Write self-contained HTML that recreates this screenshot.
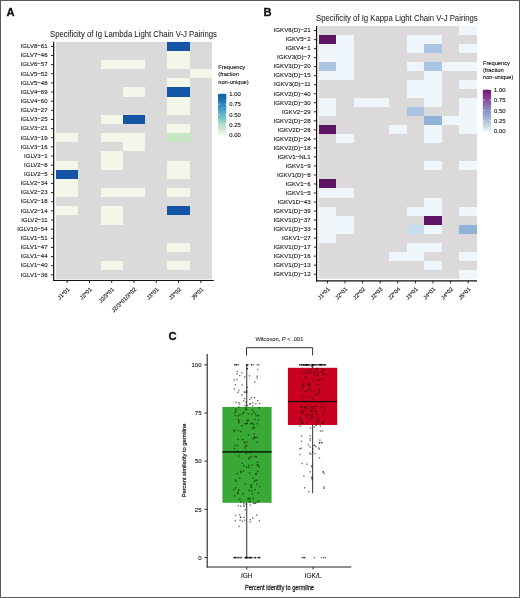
<!DOCTYPE html>
<html><head><meta charset="utf-8"><style>
html,body{margin:0;padding:0;background:#fff;}
#wrap{position:relative;width:520px;height:598px;overflow:hidden;background:#fff;}
svg{position:absolute;left:0;top:0;will-change:transform;font-family:"Liberation Sans", sans-serif;}
#frame{position:absolute;left:0;top:0;width:520px;height:598px;box-sizing:border-box;border:1px solid #5a5a5a;}
</style></head><body><div id="wrap">
<svg width="520" height="598" viewBox="0 0 520 598" shape-rendering="auto">
<rect x="56.00" y="41.80" width="156.00" height="237.60" fill="#dadada"/>
<rect x="167.43" y="41.80" width="22.29" height="9.14" fill="#1455a8" shape-rendering="crispEdges"/>
<rect x="167.43" y="50.94" width="22.29" height="9.14" fill="#f3f7ea" shape-rendering="crispEdges"/>
<rect x="100.57" y="60.08" width="22.29" height="9.14" fill="#f3f7ea" shape-rendering="crispEdges"/>
<rect x="122.86" y="60.08" width="22.29" height="9.14" fill="#f3f7ea" shape-rendering="crispEdges"/>
<rect x="167.43" y="60.08" width="22.29" height="9.14" fill="#f3f7ea" shape-rendering="crispEdges"/>
<rect x="189.71" y="69.22" width="22.29" height="9.14" fill="#f3f7ea" shape-rendering="crispEdges"/>
<rect x="167.43" y="78.35" width="22.29" height="9.14" fill="#f3f7ea" shape-rendering="crispEdges"/>
<rect x="122.86" y="87.49" width="22.29" height="9.14" fill="#f3f7ea" shape-rendering="crispEdges"/>
<rect x="167.43" y="87.49" width="22.29" height="9.14" fill="#1455a8" shape-rendering="crispEdges"/>
<rect x="167.43" y="96.63" width="22.29" height="9.14" fill="#f3f7ea" shape-rendering="crispEdges"/>
<rect x="167.43" y="105.77" width="22.29" height="9.14" fill="#f3f7ea" shape-rendering="crispEdges"/>
<rect x="100.57" y="114.91" width="22.29" height="9.14" fill="#f3f7ea" shape-rendering="crispEdges"/>
<rect x="122.86" y="114.91" width="22.29" height="9.14" fill="#1455a8" shape-rendering="crispEdges"/>
<rect x="167.43" y="124.05" width="22.29" height="9.14" fill="#f3f7ea" shape-rendering="crispEdges"/>
<rect x="56.00" y="133.18" width="22.29" height="9.14" fill="#f3f7ea" shape-rendering="crispEdges"/>
<rect x="100.57" y="133.18" width="22.29" height="9.14" fill="#f3f7ea" shape-rendering="crispEdges"/>
<rect x="122.86" y="133.18" width="22.29" height="9.14" fill="#f3f7ea" shape-rendering="crispEdges"/>
<rect x="167.43" y="133.18" width="22.29" height="9.14" fill="#c6e6c2" shape-rendering="crispEdges"/>
<rect x="122.86" y="142.32" width="22.29" height="9.14" fill="#f3f7ea" shape-rendering="crispEdges"/>
<rect x="100.57" y="151.46" width="22.29" height="9.14" fill="#f3f7ea" shape-rendering="crispEdges"/>
<rect x="56.00" y="160.60" width="22.29" height="9.14" fill="#f3f7ea" shape-rendering="crispEdges"/>
<rect x="100.57" y="160.60" width="22.29" height="9.14" fill="#f3f7ea" shape-rendering="crispEdges"/>
<rect x="167.43" y="160.60" width="22.29" height="9.14" fill="#f3f7ea" shape-rendering="crispEdges"/>
<rect x="56.00" y="169.74" width="22.29" height="9.14" fill="#1455a8" shape-rendering="crispEdges"/>
<rect x="167.43" y="169.74" width="22.29" height="9.14" fill="#f3f7ea" shape-rendering="crispEdges"/>
<rect x="56.00" y="178.88" width="22.29" height="9.14" fill="#f3f7ea" shape-rendering="crispEdges"/>
<rect x="56.00" y="188.02" width="22.29" height="9.14" fill="#f3f7ea" shape-rendering="crispEdges"/>
<rect x="100.57" y="188.02" width="22.29" height="9.14" fill="#f3f7ea" shape-rendering="crispEdges"/>
<rect x="122.86" y="188.02" width="22.29" height="9.14" fill="#f3f7ea" shape-rendering="crispEdges"/>
<rect x="167.43" y="188.02" width="22.29" height="9.14" fill="#f3f7ea" shape-rendering="crispEdges"/>
<rect x="56.00" y="206.29" width="22.29" height="9.14" fill="#f3f7ea" shape-rendering="crispEdges"/>
<rect x="100.57" y="206.29" width="22.29" height="9.14" fill="#f3f7ea" shape-rendering="crispEdges"/>
<rect x="167.43" y="206.29" width="22.29" height="9.14" fill="#1455a8" shape-rendering="crispEdges"/>
<rect x="100.57" y="215.43" width="22.29" height="9.14" fill="#f3f7ea" shape-rendering="crispEdges"/>
<rect x="167.43" y="242.85" width="22.29" height="9.14" fill="#f3f7ea" shape-rendering="crispEdges"/>
<rect x="100.57" y="261.12" width="22.29" height="9.14" fill="#f3f7ea" shape-rendering="crispEdges"/>
<rect x="167.43" y="261.12" width="22.29" height="9.14" fill="#f3f7ea" shape-rendering="crispEdges"/>
<line x1="53.70" y1="41.80" x2="53.70" y2="281.10" stroke="#111" stroke-width="1.2"/>
<line x1="53.10" y1="280.50" x2="213.80" y2="280.50" stroke="#111" stroke-width="1.2"/>
<line x1="51.00" y1="46.37" x2="53.70" y2="46.37" stroke="#111" stroke-width="0.9"/>
<text x="47.50" y="48.12" font-size="6.02" text-anchor="end" fill="#1e1e1e" font-weight="normal" stroke="#1e1e1e" stroke-width="0.13" >IGLV8−61</text>
<line x1="51.00" y1="55.51" x2="53.70" y2="55.51" stroke="#111" stroke-width="0.9"/>
<text x="47.50" y="57.26" font-size="6.02" text-anchor="end" fill="#1e1e1e" font-weight="normal" stroke="#1e1e1e" stroke-width="0.13" >IGLV7−46</text>
<line x1="51.00" y1="64.65" x2="53.70" y2="64.65" stroke="#111" stroke-width="0.9"/>
<text x="47.50" y="66.40" font-size="6.02" text-anchor="end" fill="#1e1e1e" font-weight="normal" stroke="#1e1e1e" stroke-width="0.13" >IGLV6−57</text>
<line x1="51.00" y1="73.78" x2="53.70" y2="73.78" stroke="#111" stroke-width="0.9"/>
<text x="47.50" y="75.53" font-size="6.02" text-anchor="end" fill="#1e1e1e" font-weight="normal" stroke="#1e1e1e" stroke-width="0.13" >IGLV5−52</text>
<line x1="51.00" y1="82.92" x2="53.70" y2="82.92" stroke="#111" stroke-width="0.9"/>
<text x="47.50" y="84.67" font-size="6.02" text-anchor="end" fill="#1e1e1e" font-weight="normal" stroke="#1e1e1e" stroke-width="0.13" >IGLV5−48</text>
<line x1="51.00" y1="92.06" x2="53.70" y2="92.06" stroke="#111" stroke-width="0.9"/>
<text x="47.50" y="93.81" font-size="6.02" text-anchor="end" fill="#1e1e1e" font-weight="normal" stroke="#1e1e1e" stroke-width="0.13" >IGLV4−69</text>
<line x1="51.00" y1="101.20" x2="53.70" y2="101.20" stroke="#111" stroke-width="0.9"/>
<text x="47.50" y="102.95" font-size="6.02" text-anchor="end" fill="#1e1e1e" font-weight="normal" stroke="#1e1e1e" stroke-width="0.13" >IGLV4−60</text>
<line x1="51.00" y1="110.34" x2="53.70" y2="110.34" stroke="#111" stroke-width="0.9"/>
<text x="47.50" y="112.09" font-size="6.02" text-anchor="end" fill="#1e1e1e" font-weight="normal" stroke="#1e1e1e" stroke-width="0.13" >IGLV3−27</text>
<line x1="51.00" y1="119.48" x2="53.70" y2="119.48" stroke="#111" stroke-width="0.9"/>
<text x="47.50" y="121.23" font-size="6.02" text-anchor="end" fill="#1e1e1e" font-weight="normal" stroke="#1e1e1e" stroke-width="0.13" >IGLV3−25</text>
<line x1="51.00" y1="128.62" x2="53.70" y2="128.62" stroke="#111" stroke-width="0.9"/>
<text x="47.50" y="130.37" font-size="6.02" text-anchor="end" fill="#1e1e1e" font-weight="normal" stroke="#1e1e1e" stroke-width="0.13" >IGLV3−21</text>
<line x1="51.00" y1="137.75" x2="53.70" y2="137.75" stroke="#111" stroke-width="0.9"/>
<text x="47.50" y="139.50" font-size="6.02" text-anchor="end" fill="#1e1e1e" font-weight="normal" stroke="#1e1e1e" stroke-width="0.13" >IGLV3−19</text>
<line x1="51.00" y1="146.89" x2="53.70" y2="146.89" stroke="#111" stroke-width="0.9"/>
<text x="47.50" y="148.64" font-size="6.02" text-anchor="end" fill="#1e1e1e" font-weight="normal" stroke="#1e1e1e" stroke-width="0.13" >IGLV3−16</text>
<line x1="51.00" y1="156.03" x2="53.70" y2="156.03" stroke="#111" stroke-width="0.9"/>
<text x="47.50" y="157.78" font-size="6.02" text-anchor="end" fill="#1e1e1e" font-weight="normal" stroke="#1e1e1e" stroke-width="0.13" >IGLV3−1</text>
<line x1="51.00" y1="165.17" x2="53.70" y2="165.17" stroke="#111" stroke-width="0.9"/>
<text x="47.50" y="166.92" font-size="6.02" text-anchor="end" fill="#1e1e1e" font-weight="normal" stroke="#1e1e1e" stroke-width="0.13" >IGLV2−8</text>
<line x1="51.00" y1="174.31" x2="53.70" y2="174.31" stroke="#111" stroke-width="0.9"/>
<text x="47.50" y="176.06" font-size="6.02" text-anchor="end" fill="#1e1e1e" font-weight="normal" stroke="#1e1e1e" stroke-width="0.13" >IGLV2−5</text>
<line x1="51.00" y1="183.45" x2="53.70" y2="183.45" stroke="#111" stroke-width="0.9"/>
<text x="47.50" y="185.20" font-size="6.02" text-anchor="end" fill="#1e1e1e" font-weight="normal" stroke="#1e1e1e" stroke-width="0.13" >IGLV2−34</text>
<line x1="51.00" y1="192.58" x2="53.70" y2="192.58" stroke="#111" stroke-width="0.9"/>
<text x="47.50" y="194.33" font-size="6.02" text-anchor="end" fill="#1e1e1e" font-weight="normal" stroke="#1e1e1e" stroke-width="0.13" >IGLV2−23</text>
<line x1="51.00" y1="201.72" x2="53.70" y2="201.72" stroke="#111" stroke-width="0.9"/>
<text x="47.50" y="203.47" font-size="6.02" text-anchor="end" fill="#1e1e1e" font-weight="normal" stroke="#1e1e1e" stroke-width="0.13" >IGLV2−18</text>
<line x1="51.00" y1="210.86" x2="53.70" y2="210.86" stroke="#111" stroke-width="0.9"/>
<text x="47.50" y="212.61" font-size="6.02" text-anchor="end" fill="#1e1e1e" font-weight="normal" stroke="#1e1e1e" stroke-width="0.13" >IGLV2−14</text>
<line x1="51.00" y1="220.00" x2="53.70" y2="220.00" stroke="#111" stroke-width="0.9"/>
<text x="47.50" y="221.75" font-size="6.02" text-anchor="end" fill="#1e1e1e" font-weight="normal" stroke="#1e1e1e" stroke-width="0.13" >IGLV2−11</text>
<line x1="51.00" y1="229.14" x2="53.70" y2="229.14" stroke="#111" stroke-width="0.9"/>
<text x="47.50" y="230.89" font-size="6.02" text-anchor="end" fill="#1e1e1e" font-weight="normal" stroke="#1e1e1e" stroke-width="0.13" >IGLV10−54</text>
<line x1="51.00" y1="238.28" x2="53.70" y2="238.28" stroke="#111" stroke-width="0.9"/>
<text x="47.50" y="240.03" font-size="6.02" text-anchor="end" fill="#1e1e1e" font-weight="normal" stroke="#1e1e1e" stroke-width="0.13" >IGLV1−51</text>
<line x1="51.00" y1="247.42" x2="53.70" y2="247.42" stroke="#111" stroke-width="0.9"/>
<text x="47.50" y="249.17" font-size="6.02" text-anchor="end" fill="#1e1e1e" font-weight="normal" stroke="#1e1e1e" stroke-width="0.13" >IGLV1−47</text>
<line x1="51.00" y1="256.55" x2="53.70" y2="256.55" stroke="#111" stroke-width="0.9"/>
<text x="47.50" y="258.30" font-size="6.02" text-anchor="end" fill="#1e1e1e" font-weight="normal" stroke="#1e1e1e" stroke-width="0.13" >IGLV1−44</text>
<line x1="51.00" y1="265.69" x2="53.70" y2="265.69" stroke="#111" stroke-width="0.9"/>
<text x="47.50" y="267.44" font-size="6.02" text-anchor="end" fill="#1e1e1e" font-weight="normal" stroke="#1e1e1e" stroke-width="0.13" >IGLV1−40</text>
<line x1="51.00" y1="274.83" x2="53.70" y2="274.83" stroke="#111" stroke-width="0.9"/>
<text x="47.50" y="276.58" font-size="6.02" text-anchor="end" fill="#1e1e1e" font-weight="normal" stroke="#1e1e1e" stroke-width="0.13" >IGLV1−36</text>
<line x1="67.14" y1="280.50" x2="67.14" y2="283.00" stroke="#111" stroke-width="0.9"/>
<text transform="translate(67.74,287.50) rotate(-45)" font-size="5.7" text-anchor="end" fill="#222222" stroke="#222222" stroke-width="0.13" dy="0.55em">J1*01</text>
<line x1="89.43" y1="280.50" x2="89.43" y2="283.00" stroke="#111" stroke-width="0.9"/>
<text transform="translate(90.03,287.50) rotate(-45)" font-size="5.7" text-anchor="end" fill="#222222" stroke="#222222" stroke-width="0.13" dy="0.55em">J2*01</text>
<line x1="111.71" y1="280.50" x2="111.71" y2="283.00" stroke="#111" stroke-width="0.9"/>
<text transform="translate(112.31,287.50) rotate(-45)" font-size="5.7" text-anchor="end" fill="#222222" stroke="#222222" stroke-width="0.13" dy="0.55em">J2/3*01</text>
<line x1="134.00" y1="280.50" x2="134.00" y2="283.00" stroke="#111" stroke-width="0.9"/>
<text transform="translate(134.60,287.50) rotate(-45)" font-size="5.7" text-anchor="end" fill="#222222" stroke="#222222" stroke-width="0.13" dy="0.55em">J2/3*01/3*02</text>
<line x1="156.29" y1="280.50" x2="156.29" y2="283.00" stroke="#111" stroke-width="0.9"/>
<text transform="translate(156.89,287.50) rotate(-45)" font-size="5.7" text-anchor="end" fill="#222222" stroke="#222222" stroke-width="0.13" dy="0.55em">J3*01</text>
<line x1="178.57" y1="280.50" x2="178.57" y2="283.00" stroke="#111" stroke-width="0.9"/>
<text transform="translate(179.17,287.50) rotate(-45)" font-size="5.7" text-anchor="end" fill="#222222" stroke="#222222" stroke-width="0.13" dy="0.55em">J3*02</text>
<line x1="200.86" y1="280.50" x2="200.86" y2="283.00" stroke="#111" stroke-width="0.9"/>
<text transform="translate(201.46,287.50) rotate(-45)" font-size="5.7" text-anchor="end" fill="#222222" stroke="#222222" stroke-width="0.13" dy="0.55em">J6*01</text>
<text x="6.40" y="15.80" font-size="11.2" text-anchor="start" fill="#111" font-weight="bold" stroke="#111" stroke-width="0.3" >A</text>
<text x="50.00" y="36.80" font-size="8.2" text-anchor="start" fill="#262626" font-weight="normal" textLength="167" lengthAdjust="spacingAndGlyphs" stroke="#262626" stroke-width="0.06" >Specificity of Ig Lambda Light Chain V-J Pairings</text>
<text x="218.30" y="68.70" font-size="5.7" text-anchor="start" fill="#1a1a1a" font-weight="normal" stroke="#1a1a1a" stroke-width="0.13" >Frequency</text>
<text x="218.30" y="76.15" font-size="5.7" text-anchor="start" fill="#1a1a1a" font-weight="normal" stroke="#1a1a1a" stroke-width="0.13" >(fraction</text>
<text x="218.30" y="83.60" font-size="5.7" text-anchor="start" fill="#1a1a1a" font-weight="normal" stroke="#1a1a1a" stroke-width="0.13" >non-unique)</text>
<defs><linearGradient id="gA" x1="0" y1="1" x2="0" y2="0"><stop offset="0" stop-color="#f2f9ee"/><stop offset="0.25" stop-color="#b4dfbf"/><stop offset="0.5" stop-color="#5db6c8"/><stop offset="0.75" stop-color="#2a88bd"/><stop offset="1" stop-color="#135a9c"/></linearGradient><linearGradient id="gB" x1="0" y1="1" x2="0" y2="0"><stop offset="0" stop-color="#eaf2f8"/><stop offset="0.25" stop-color="#a9c0dd"/><stop offset="0.5" stop-color="#8c8fc5"/><stop offset="0.75" stop-color="#8a4c9f"/><stop offset="1" stop-color="#6a1870"/></linearGradient></defs>
<rect x="218.00" y="93.80" width="8.30" height="41.40" fill="url(#gA)"/>
<line x1="218.20" y1="93.80" x2="220.00" y2="93.80" stroke="#fff" stroke-width="0.6"/>
<line x1="224.90" y1="93.80" x2="226.70" y2="93.80" stroke="#fff" stroke-width="0.6"/>
<text x="229.30" y="95.90" font-size="5.9" text-anchor="start" fill="#222222" font-weight="normal" stroke="#222222" stroke-width="0.13" >1.00</text>
<line x1="218.20" y1="104.15" x2="220.00" y2="104.15" stroke="#fff" stroke-width="0.6"/>
<line x1="224.90" y1="104.15" x2="226.70" y2="104.15" stroke="#fff" stroke-width="0.6"/>
<text x="229.30" y="106.25" font-size="5.9" text-anchor="start" fill="#222222" font-weight="normal" stroke="#222222" stroke-width="0.13" >0.75</text>
<line x1="218.20" y1="114.50" x2="220.00" y2="114.50" stroke="#fff" stroke-width="0.6"/>
<line x1="224.90" y1="114.50" x2="226.70" y2="114.50" stroke="#fff" stroke-width="0.6"/>
<text x="229.30" y="116.60" font-size="5.9" text-anchor="start" fill="#222222" font-weight="normal" stroke="#222222" stroke-width="0.13" >0.50</text>
<line x1="218.20" y1="124.85" x2="220.00" y2="124.85" stroke="#fff" stroke-width="0.6"/>
<line x1="224.90" y1="124.85" x2="226.70" y2="124.85" stroke="#fff" stroke-width="0.6"/>
<text x="229.30" y="126.95" font-size="5.9" text-anchor="start" fill="#222222" font-weight="normal" stroke="#222222" stroke-width="0.13" >0.25</text>
<line x1="218.20" y1="135.20" x2="220.00" y2="135.20" stroke="#fff" stroke-width="0.6"/>
<line x1="224.90" y1="135.20" x2="226.70" y2="135.20" stroke="#fff" stroke-width="0.6"/>
<text x="229.30" y="137.30" font-size="5.9" text-anchor="start" fill="#222222" font-weight="normal" stroke="#222222" stroke-width="0.13" >0.00</text>
<rect x="318.60" y="26.10" width="158.40" height="252.60" fill="#dcd9da"/>
<rect x="459.40" y="26.10" width="17.60" height="9.02" fill="#eef6fb" shape-rendering="crispEdges"/>
<rect x="318.60" y="35.12" width="17.60" height="9.02" fill="#5f1466" shape-rendering="crispEdges"/>
<rect x="336.20" y="35.12" width="17.60" height="9.02" fill="#eef6fb" shape-rendering="crispEdges"/>
<rect x="406.60" y="35.12" width="17.60" height="9.02" fill="#eef6fb" shape-rendering="crispEdges"/>
<rect x="424.20" y="35.12" width="17.60" height="9.02" fill="#eef6fb" shape-rendering="crispEdges"/>
<rect x="318.60" y="44.14" width="17.60" height="9.02" fill="#eef6fb" shape-rendering="crispEdges"/>
<rect x="336.20" y="44.14" width="17.60" height="9.02" fill="#eef6fb" shape-rendering="crispEdges"/>
<rect x="406.60" y="44.14" width="17.60" height="9.02" fill="#eef6fb" shape-rendering="crispEdges"/>
<rect x="424.20" y="44.14" width="17.60" height="9.02" fill="#a9c5e2" shape-rendering="crispEdges"/>
<rect x="459.40" y="44.14" width="17.60" height="9.02" fill="#eef6fb" shape-rendering="crispEdges"/>
<rect x="318.60" y="53.16" width="17.60" height="9.02" fill="#eef6fb" shape-rendering="crispEdges"/>
<rect x="336.20" y="53.16" width="17.60" height="9.02" fill="#eef6fb" shape-rendering="crispEdges"/>
<rect x="318.60" y="62.19" width="17.60" height="9.02" fill="#a9c5e2" shape-rendering="crispEdges"/>
<rect x="336.20" y="62.19" width="17.60" height="9.02" fill="#eef6fb" shape-rendering="crispEdges"/>
<rect x="406.60" y="62.19" width="17.60" height="9.02" fill="#eef6fb" shape-rendering="crispEdges"/>
<rect x="424.20" y="62.19" width="17.60" height="9.02" fill="#a9c5e2" shape-rendering="crispEdges"/>
<rect x="441.80" y="62.19" width="17.60" height="9.02" fill="#eef6fb" shape-rendering="crispEdges"/>
<rect x="459.40" y="62.19" width="17.60" height="9.02" fill="#eef6fb" shape-rendering="crispEdges"/>
<rect x="318.60" y="71.21" width="17.60" height="9.02" fill="#eef6fb" shape-rendering="crispEdges"/>
<rect x="336.20" y="71.21" width="17.60" height="9.02" fill="#eef6fb" shape-rendering="crispEdges"/>
<rect x="424.20" y="71.21" width="17.60" height="9.02" fill="#eef6fb" shape-rendering="crispEdges"/>
<rect x="406.60" y="80.23" width="17.60" height="9.02" fill="#eef6fb" shape-rendering="crispEdges"/>
<rect x="424.20" y="80.23" width="17.60" height="9.02" fill="#eef6fb" shape-rendering="crispEdges"/>
<rect x="459.40" y="80.23" width="17.60" height="9.02" fill="#eef6fb" shape-rendering="crispEdges"/>
<rect x="406.60" y="89.25" width="17.60" height="9.02" fill="#eef6fb" shape-rendering="crispEdges"/>
<rect x="424.20" y="89.25" width="17.60" height="9.02" fill="#eef6fb" shape-rendering="crispEdges"/>
<rect x="318.60" y="98.27" width="17.60" height="9.02" fill="#eef6fb" shape-rendering="crispEdges"/>
<rect x="353.80" y="98.27" width="17.60" height="9.02" fill="#eef6fb" shape-rendering="crispEdges"/>
<rect x="371.40" y="98.27" width="17.60" height="9.02" fill="#eef6fb" shape-rendering="crispEdges"/>
<rect x="424.20" y="98.27" width="17.60" height="9.02" fill="#eef6fb" shape-rendering="crispEdges"/>
<rect x="459.40" y="98.27" width="17.60" height="9.02" fill="#eef6fb" shape-rendering="crispEdges"/>
<rect x="318.60" y="107.29" width="17.60" height="9.02" fill="#eef6fb" shape-rendering="crispEdges"/>
<rect x="406.60" y="107.29" width="17.60" height="9.02" fill="#a9c5e2" shape-rendering="crispEdges"/>
<rect x="459.40" y="107.29" width="17.60" height="9.02" fill="#eef6fb" shape-rendering="crispEdges"/>
<rect x="424.20" y="116.31" width="17.60" height="9.02" fill="#8fb2da" shape-rendering="crispEdges"/>
<rect x="441.80" y="116.31" width="17.60" height="9.02" fill="#eef6fb" shape-rendering="crispEdges"/>
<rect x="459.40" y="116.31" width="17.60" height="9.02" fill="#eef6fb" shape-rendering="crispEdges"/>
<rect x="318.60" y="125.34" width="17.60" height="9.02" fill="#5f1466" shape-rendering="crispEdges"/>
<rect x="389.00" y="125.34" width="17.60" height="9.02" fill="#eef6fb" shape-rendering="crispEdges"/>
<rect x="424.20" y="125.34" width="17.60" height="9.02" fill="#eef6fb" shape-rendering="crispEdges"/>
<rect x="459.40" y="125.34" width="17.60" height="9.02" fill="#eef6fb" shape-rendering="crispEdges"/>
<rect x="336.20" y="134.36" width="17.60" height="9.02" fill="#eef6fb" shape-rendering="crispEdges"/>
<rect x="424.20" y="134.36" width="17.60" height="9.02" fill="#eef6fb" shape-rendering="crispEdges"/>
<rect x="424.20" y="161.42" width="17.60" height="9.02" fill="#eef6fb" shape-rendering="crispEdges"/>
<rect x="459.40" y="161.42" width="17.60" height="9.02" fill="#eef6fb" shape-rendering="crispEdges"/>
<rect x="318.60" y="179.46" width="17.60" height="9.02" fill="#5f1466" shape-rendering="crispEdges"/>
<rect x="318.60" y="188.49" width="17.60" height="9.02" fill="#eef6fb" shape-rendering="crispEdges"/>
<rect x="336.20" y="188.49" width="17.60" height="9.02" fill="#eef6fb" shape-rendering="crispEdges"/>
<rect x="424.20" y="197.51" width="17.60" height="9.02" fill="#eef6fb" shape-rendering="crispEdges"/>
<rect x="318.60" y="206.53" width="17.60" height="9.02" fill="#eef6fb" shape-rendering="crispEdges"/>
<rect x="406.60" y="206.53" width="17.60" height="9.02" fill="#eef6fb" shape-rendering="crispEdges"/>
<rect x="424.20" y="206.53" width="17.60" height="9.02" fill="#eef6fb" shape-rendering="crispEdges"/>
<rect x="459.40" y="206.53" width="17.60" height="9.02" fill="#eef6fb" shape-rendering="crispEdges"/>
<rect x="318.60" y="215.55" width="17.60" height="9.02" fill="#eef6fb" shape-rendering="crispEdges"/>
<rect x="336.20" y="215.55" width="17.60" height="9.02" fill="#eef6fb" shape-rendering="crispEdges"/>
<rect x="424.20" y="215.55" width="17.60" height="9.02" fill="#5f1466" shape-rendering="crispEdges"/>
<rect x="318.60" y="224.57" width="17.60" height="9.02" fill="#eef6fb" shape-rendering="crispEdges"/>
<rect x="336.20" y="224.57" width="17.60" height="9.02" fill="#eef6fb" shape-rendering="crispEdges"/>
<rect x="406.60" y="224.57" width="17.60" height="9.02" fill="#c9dcec" shape-rendering="crispEdges"/>
<rect x="424.20" y="224.57" width="17.60" height="9.02" fill="#eef6fb" shape-rendering="crispEdges"/>
<rect x="459.40" y="224.57" width="17.60" height="9.02" fill="#8fb2da" shape-rendering="crispEdges"/>
<rect x="318.60" y="233.59" width="17.60" height="9.02" fill="#eef6fb" shape-rendering="crispEdges"/>
<rect x="406.60" y="242.61" width="17.60" height="9.02" fill="#eef6fb" shape-rendering="crispEdges"/>
<rect x="424.20" y="242.61" width="17.60" height="9.02" fill="#eef6fb" shape-rendering="crispEdges"/>
<rect x="389.00" y="251.64" width="17.60" height="9.02" fill="#eef6fb" shape-rendering="crispEdges"/>
<rect x="406.60" y="251.64" width="17.60" height="9.02" fill="#eef6fb" shape-rendering="crispEdges"/>
<rect x="459.40" y="251.64" width="17.60" height="9.02" fill="#eef6fb" shape-rendering="crispEdges"/>
<rect x="424.20" y="260.66" width="17.60" height="9.02" fill="#eef6fb" shape-rendering="crispEdges"/>
<rect x="459.40" y="269.68" width="17.60" height="9.02" fill="#eef6fb" shape-rendering="crispEdges"/>
<line x1="316.60" y1="26.10" x2="316.60" y2="281.40" stroke="#111" stroke-width="1.2"/>
<line x1="316.00" y1="280.80" x2="477.00" y2="280.80" stroke="#111" stroke-width="1.2"/>
<line x1="313.80" y1="30.61" x2="316.60" y2="30.61" stroke="#111" stroke-width="0.9"/>
<text x="310.60" y="32.36" font-size="6.15" text-anchor="end" fill="#1e1e1e" font-weight="normal" stroke="#1e1e1e" stroke-width="0.13" >IGKV6(D)−21</text>
<line x1="313.80" y1="39.63" x2="316.60" y2="39.63" stroke="#111" stroke-width="0.9"/>
<text x="310.60" y="41.38" font-size="6.15" text-anchor="end" fill="#1e1e1e" font-weight="normal" stroke="#1e1e1e" stroke-width="0.13" >IGKV5−2</text>
<line x1="313.80" y1="48.65" x2="316.60" y2="48.65" stroke="#111" stroke-width="0.9"/>
<text x="310.60" y="50.40" font-size="6.15" text-anchor="end" fill="#1e1e1e" font-weight="normal" stroke="#1e1e1e" stroke-width="0.13" >IGKV4−1</text>
<line x1="313.80" y1="57.67" x2="316.60" y2="57.67" stroke="#111" stroke-width="0.9"/>
<text x="310.60" y="59.42" font-size="6.15" text-anchor="end" fill="#1e1e1e" font-weight="normal" stroke="#1e1e1e" stroke-width="0.13" >IGKV3(D)−7</text>
<line x1="313.80" y1="66.70" x2="316.60" y2="66.70" stroke="#111" stroke-width="0.9"/>
<text x="310.60" y="68.45" font-size="6.15" text-anchor="end" fill="#1e1e1e" font-weight="normal" stroke="#1e1e1e" stroke-width="0.13" >IGKV3(D)−20</text>
<line x1="313.80" y1="75.72" x2="316.60" y2="75.72" stroke="#111" stroke-width="0.9"/>
<text x="310.60" y="77.47" font-size="6.15" text-anchor="end" fill="#1e1e1e" font-weight="normal" stroke="#1e1e1e" stroke-width="0.13" >IGKV3(D)−15</text>
<line x1="313.80" y1="84.74" x2="316.60" y2="84.74" stroke="#111" stroke-width="0.9"/>
<text x="310.60" y="86.49" font-size="6.15" text-anchor="end" fill="#1e1e1e" font-weight="normal" stroke="#1e1e1e" stroke-width="0.13" >IGKV3(D)−11</text>
<line x1="313.80" y1="93.76" x2="316.60" y2="93.76" stroke="#111" stroke-width="0.9"/>
<text x="310.60" y="95.51" font-size="6.15" text-anchor="end" fill="#1e1e1e" font-weight="normal" stroke="#1e1e1e" stroke-width="0.13" >IGKV2(D)−40</text>
<line x1="313.80" y1="102.78" x2="316.60" y2="102.78" stroke="#111" stroke-width="0.9"/>
<text x="310.60" y="104.53" font-size="6.15" text-anchor="end" fill="#1e1e1e" font-weight="normal" stroke="#1e1e1e" stroke-width="0.13" >IGKV2(D)−30</text>
<line x1="313.80" y1="111.80" x2="316.60" y2="111.80" stroke="#111" stroke-width="0.9"/>
<text x="310.60" y="113.55" font-size="6.15" text-anchor="end" fill="#1e1e1e" font-weight="normal" stroke="#1e1e1e" stroke-width="0.13" >IGKV2−29</text>
<line x1="313.80" y1="120.82" x2="316.60" y2="120.82" stroke="#111" stroke-width="0.9"/>
<text x="310.60" y="122.57" font-size="6.15" text-anchor="end" fill="#1e1e1e" font-weight="normal" stroke="#1e1e1e" stroke-width="0.13" >IGKV2(D)−28</text>
<line x1="313.80" y1="129.85" x2="316.60" y2="129.85" stroke="#111" stroke-width="0.9"/>
<text x="310.60" y="131.60" font-size="6.15" text-anchor="end" fill="#1e1e1e" font-weight="normal" stroke="#1e1e1e" stroke-width="0.13" >IGKV2D−26</text>
<line x1="313.80" y1="138.87" x2="316.60" y2="138.87" stroke="#111" stroke-width="0.9"/>
<text x="310.60" y="140.62" font-size="6.15" text-anchor="end" fill="#1e1e1e" font-weight="normal" stroke="#1e1e1e" stroke-width="0.13" >IGKV2(D)−24</text>
<line x1="313.80" y1="147.89" x2="316.60" y2="147.89" stroke="#111" stroke-width="0.9"/>
<text x="310.60" y="149.64" font-size="6.15" text-anchor="end" fill="#1e1e1e" font-weight="normal" stroke="#1e1e1e" stroke-width="0.13" >IGKV2(D)−18</text>
<line x1="313.80" y1="156.91" x2="316.60" y2="156.91" stroke="#111" stroke-width="0.9"/>
<text x="310.60" y="158.66" font-size="6.15" text-anchor="end" fill="#1e1e1e" font-weight="normal" stroke="#1e1e1e" stroke-width="0.13" >IGKV1−NL1</text>
<line x1="313.80" y1="165.93" x2="316.60" y2="165.93" stroke="#111" stroke-width="0.9"/>
<text x="310.60" y="167.68" font-size="6.15" text-anchor="end" fill="#1e1e1e" font-weight="normal" stroke="#1e1e1e" stroke-width="0.13" >IGKV1−9</text>
<line x1="313.80" y1="174.95" x2="316.60" y2="174.95" stroke="#111" stroke-width="0.9"/>
<text x="310.60" y="176.70" font-size="6.15" text-anchor="end" fill="#1e1e1e" font-weight="normal" stroke="#1e1e1e" stroke-width="0.13" >IGKV1(D)−8</text>
<line x1="313.80" y1="183.97" x2="316.60" y2="183.97" stroke="#111" stroke-width="0.9"/>
<text x="310.60" y="185.72" font-size="6.15" text-anchor="end" fill="#1e1e1e" font-weight="normal" stroke="#1e1e1e" stroke-width="0.13" >IGKV1−6</text>
<line x1="313.80" y1="193.00" x2="316.60" y2="193.00" stroke="#111" stroke-width="0.9"/>
<text x="310.60" y="194.75" font-size="6.15" text-anchor="end" fill="#1e1e1e" font-weight="normal" stroke="#1e1e1e" stroke-width="0.13" >IGKV1−5</text>
<line x1="313.80" y1="202.02" x2="316.60" y2="202.02" stroke="#111" stroke-width="0.9"/>
<text x="310.60" y="203.77" font-size="6.15" text-anchor="end" fill="#1e1e1e" font-weight="normal" stroke="#1e1e1e" stroke-width="0.13" >IGKV1D−43</text>
<line x1="313.80" y1="211.04" x2="316.60" y2="211.04" stroke="#111" stroke-width="0.9"/>
<text x="310.60" y="212.79" font-size="6.15" text-anchor="end" fill="#1e1e1e" font-weight="normal" stroke="#1e1e1e" stroke-width="0.13" >IGKV1(D)−39</text>
<line x1="313.80" y1="220.06" x2="316.60" y2="220.06" stroke="#111" stroke-width="0.9"/>
<text x="310.60" y="221.81" font-size="6.15" text-anchor="end" fill="#1e1e1e" font-weight="normal" stroke="#1e1e1e" stroke-width="0.13" >IGKV1(D)−37</text>
<line x1="313.80" y1="229.08" x2="316.60" y2="229.08" stroke="#111" stroke-width="0.9"/>
<text x="310.60" y="230.83" font-size="6.15" text-anchor="end" fill="#1e1e1e" font-weight="normal" stroke="#1e1e1e" stroke-width="0.13" >IGKV1(D)−33</text>
<line x1="313.80" y1="238.10" x2="316.60" y2="238.10" stroke="#111" stroke-width="0.9"/>
<text x="310.60" y="239.85" font-size="6.15" text-anchor="end" fill="#1e1e1e" font-weight="normal" stroke="#1e1e1e" stroke-width="0.13" >IGKV1−27</text>
<line x1="313.80" y1="247.12" x2="316.60" y2="247.12" stroke="#111" stroke-width="0.9"/>
<text x="310.60" y="248.87" font-size="6.15" text-anchor="end" fill="#1e1e1e" font-weight="normal" stroke="#1e1e1e" stroke-width="0.13" >IGKV1(D)−17</text>
<line x1="313.80" y1="256.15" x2="316.60" y2="256.15" stroke="#111" stroke-width="0.9"/>
<text x="310.60" y="257.90" font-size="6.15" text-anchor="end" fill="#1e1e1e" font-weight="normal" stroke="#1e1e1e" stroke-width="0.13" >IGKV1(D)−16</text>
<line x1="313.80" y1="265.17" x2="316.60" y2="265.17" stroke="#111" stroke-width="0.9"/>
<text x="310.60" y="266.92" font-size="6.15" text-anchor="end" fill="#1e1e1e" font-weight="normal" stroke="#1e1e1e" stroke-width="0.13" >IGKV1(D)−13</text>
<line x1="313.80" y1="274.19" x2="316.60" y2="274.19" stroke="#111" stroke-width="0.9"/>
<text x="310.60" y="275.94" font-size="6.15" text-anchor="end" fill="#1e1e1e" font-weight="normal" stroke="#1e1e1e" stroke-width="0.13" >IGKV1(D)−12</text>
<line x1="327.40" y1="280.80" x2="327.40" y2="283.40" stroke="#111" stroke-width="0.9"/>
<text transform="translate(328.00,287.40) rotate(-45)" font-size="5.7" text-anchor="end" fill="#222222" stroke="#222222" stroke-width="0.13" dy="0.55em">J1*01</text>
<line x1="345.00" y1="280.80" x2="345.00" y2="283.40" stroke="#111" stroke-width="0.9"/>
<text transform="translate(345.60,287.40) rotate(-45)" font-size="5.7" text-anchor="end" fill="#222222" stroke="#222222" stroke-width="0.13" dy="0.55em">J2*01</text>
<line x1="362.60" y1="280.80" x2="362.60" y2="283.40" stroke="#111" stroke-width="0.9"/>
<text transform="translate(363.20,287.40) rotate(-45)" font-size="5.7" text-anchor="end" fill="#222222" stroke="#222222" stroke-width="0.13" dy="0.55em">J2*02</text>
<line x1="380.20" y1="280.80" x2="380.20" y2="283.40" stroke="#111" stroke-width="0.9"/>
<text transform="translate(380.80,287.40) rotate(-45)" font-size="5.7" text-anchor="end" fill="#222222" stroke="#222222" stroke-width="0.13" dy="0.55em">J2*03</text>
<line x1="397.80" y1="280.80" x2="397.80" y2="283.40" stroke="#111" stroke-width="0.9"/>
<text transform="translate(398.40,287.40) rotate(-45)" font-size="5.7" text-anchor="end" fill="#222222" stroke="#222222" stroke-width="0.13" dy="0.55em">J2*04</text>
<line x1="415.40" y1="280.80" x2="415.40" y2="283.40" stroke="#111" stroke-width="0.9"/>
<text transform="translate(416.00,287.40) rotate(-45)" font-size="5.7" text-anchor="end" fill="#222222" stroke="#222222" stroke-width="0.13" dy="0.55em">J3*01</text>
<line x1="433.00" y1="280.80" x2="433.00" y2="283.40" stroke="#111" stroke-width="0.9"/>
<text transform="translate(433.60,287.40) rotate(-45)" font-size="5.7" text-anchor="end" fill="#222222" stroke="#222222" stroke-width="0.13" dy="0.55em">J4*01</text>
<line x1="450.60" y1="280.80" x2="450.60" y2="283.40" stroke="#111" stroke-width="0.9"/>
<text transform="translate(451.20,287.40) rotate(-45)" font-size="5.7" text-anchor="end" fill="#222222" stroke="#222222" stroke-width="0.13" dy="0.55em">J4*02</text>
<line x1="468.20" y1="280.80" x2="468.20" y2="283.40" stroke="#111" stroke-width="0.9"/>
<text transform="translate(468.80,287.40) rotate(-45)" font-size="5.7" text-anchor="end" fill="#222222" stroke="#222222" stroke-width="0.13" dy="0.55em">J5*01</text>
<text x="263.40" y="15.90" font-size="11.2" text-anchor="start" fill="#111" font-weight="bold" stroke="#111" stroke-width="0.3" >B</text>
<text x="316.00" y="20.80" font-size="8.2" text-anchor="start" fill="#262626" font-weight="normal" textLength="161.7" lengthAdjust="spacingAndGlyphs" stroke="#262626" stroke-width="0.06" >Specificity of Ig Kappa Light Chain V-J Pairings</text>
<text x="483.00" y="64.50" font-size="5.7" text-anchor="start" fill="#1a1a1a" font-weight="normal" stroke="#1a1a1a" stroke-width="0.13" >Frequency</text>
<text x="483.00" y="71.95" font-size="5.7" text-anchor="start" fill="#1a1a1a" font-weight="normal" stroke="#1a1a1a" stroke-width="0.13" >(fraction</text>
<text x="483.00" y="79.40" font-size="5.7" text-anchor="start" fill="#1a1a1a" font-weight="normal" stroke="#1a1a1a" stroke-width="0.13" >non-unique)</text>
<rect x="482.80" y="89.70" width="8.30" height="41.40" fill="url(#gB)"/>
<line x1="482.90" y1="89.70" x2="484.70" y2="89.70" stroke="#fff" stroke-width="0.6"/>
<line x1="489.60" y1="89.70" x2="491.40" y2="89.70" stroke="#fff" stroke-width="0.6"/>
<text x="494.00" y="91.80" font-size="5.9" text-anchor="start" fill="#222222" font-weight="normal" stroke="#222222" stroke-width="0.13" >1.00</text>
<line x1="482.90" y1="100.05" x2="484.70" y2="100.05" stroke="#fff" stroke-width="0.6"/>
<line x1="489.60" y1="100.05" x2="491.40" y2="100.05" stroke="#fff" stroke-width="0.6"/>
<text x="494.00" y="102.15" font-size="5.9" text-anchor="start" fill="#222222" font-weight="normal" stroke="#222222" stroke-width="0.13" >0.75</text>
<line x1="482.90" y1="110.40" x2="484.70" y2="110.40" stroke="#fff" stroke-width="0.6"/>
<line x1="489.60" y1="110.40" x2="491.40" y2="110.40" stroke="#fff" stroke-width="0.6"/>
<text x="494.00" y="112.50" font-size="5.9" text-anchor="start" fill="#222222" font-weight="normal" stroke="#222222" stroke-width="0.13" >0.50</text>
<line x1="482.90" y1="120.75" x2="484.70" y2="120.75" stroke="#fff" stroke-width="0.6"/>
<line x1="489.60" y1="120.75" x2="491.40" y2="120.75" stroke="#fff" stroke-width="0.6"/>
<text x="494.00" y="122.85" font-size="5.9" text-anchor="start" fill="#222222" font-weight="normal" stroke="#222222" stroke-width="0.13" >0.25</text>
<line x1="482.90" y1="131.10" x2="484.70" y2="131.10" stroke="#fff" stroke-width="0.6"/>
<line x1="489.60" y1="131.10" x2="491.40" y2="131.10" stroke="#fff" stroke-width="0.6"/>
<text x="494.00" y="133.20" font-size="5.9" text-anchor="start" fill="#222222" font-weight="normal" stroke="#222222" stroke-width="0.13" >0.00</text>
<text x="168.40" y="339.60" font-size="11.2" text-anchor="start" fill="#111" font-weight="bold" stroke="#111" stroke-width="0.3" >C</text>
<line x1="246.70" y1="364.80" x2="246.70" y2="557.60" stroke="#4a4a4a" stroke-width="1.15"/>
<line x1="312.60" y1="364.80" x2="312.60" y2="493.20" stroke="#4a4a4a" stroke-width="1.15"/>
<rect x="222.40" y="407.00" width="49.20" height="95.80" fill="#3aa834"/>
<rect x="287.90" y="367.80" width="49.30" height="57.20" fill="#c90020"/>
<rect x="244.76" y="556.90" width="1.4" height="1.4" fill="#000" opacity="0.55"/>
<rect x="247.55" y="556.90" width="1.4" height="1.4" fill="#000" opacity="0.55"/>
<rect x="257.03" y="556.90" width="1.4" height="1.4" fill="#000" opacity="0.55"/>
<rect x="245.11" y="556.90" width="1.4" height="1.4" fill="#000" opacity="0.55"/>
<rect x="246.20" y="556.90" width="1.4" height="1.4" fill="#000" opacity="0.55"/>
<rect x="248.27" y="556.90" width="1.4" height="1.4" fill="#000" opacity="0.55"/>
<rect x="237.80" y="556.90" width="1.4" height="1.4" fill="#000" opacity="0.55"/>
<rect x="246.31" y="556.90" width="1.4" height="1.4" fill="#000" opacity="0.55"/>
<rect x="249.38" y="556.90" width="1.4" height="1.4" fill="#000" opacity="0.55"/>
<rect x="253.62" y="556.90" width="1.4" height="1.4" fill="#000" opacity="0.55"/>
<rect x="235.45" y="556.90" width="1.4" height="1.4" fill="#000" opacity="0.55"/>
<rect x="240.89" y="556.90" width="1.4" height="1.4" fill="#000" opacity="0.55"/>
<rect x="235.36" y="556.90" width="1.4" height="1.4" fill="#000" opacity="0.55"/>
<rect x="254.05" y="556.90" width="1.4" height="1.4" fill="#000" opacity="0.55"/>
<rect x="251.03" y="556.90" width="1.4" height="1.4" fill="#000" opacity="0.55"/>
<rect x="234.09" y="556.90" width="1.4" height="1.4" fill="#000" opacity="0.55"/>
<rect x="258.54" y="556.90" width="1.4" height="1.4" fill="#000" opacity="0.55"/>
<rect x="258.08" y="556.90" width="1.4" height="1.4" fill="#000" opacity="0.55"/>
<rect x="250.00" y="556.90" width="1.4" height="1.4" fill="#000" opacity="0.55"/>
<rect x="249.00" y="556.90" width="1.4" height="1.4" fill="#000" opacity="0.55"/>
<rect x="237.09" y="556.90" width="1.4" height="1.4" fill="#000" opacity="0.55"/>
<rect x="233.39" y="556.90" width="1.4" height="1.4" fill="#000" opacity="0.55"/>
<rect x="246.74" y="556.90" width="1.4" height="1.4" fill="#000" opacity="0.55"/>
<rect x="234.55" y="556.90" width="1.4" height="1.4" fill="#000" opacity="0.55"/>
<rect x="237.95" y="556.90" width="1.4" height="1.4" fill="#000" opacity="0.55"/>
<rect x="239.29" y="556.90" width="1.4" height="1.4" fill="#000" opacity="0.55"/>
<rect x="233.78" y="556.90" width="1.4" height="1.4" fill="#000" opacity="0.55"/>
<rect x="245.06" y="556.90" width="1.4" height="1.4" fill="#000" opacity="0.55"/>
<rect x="244.45" y="556.90" width="1.4" height="1.4" fill="#000" opacity="0.55"/>
<rect x="254.90" y="556.90" width="1.4" height="1.4" fill="#000" opacity="0.55"/>
<rect x="246.50" y="556.90" width="1.4" height="1.4" fill="#000" opacity="0.55"/>
<rect x="249.65" y="556.90" width="1.4" height="1.4" fill="#000" opacity="0.55"/>
<rect x="245.99" y="556.90" width="1.4" height="1.4" fill="#000" opacity="0.55"/>
<rect x="250.22" y="556.90" width="1.4" height="1.4" fill="#000" opacity="0.55"/>
<rect x="244.89" y="556.90" width="1.4" height="1.4" fill="#000" opacity="0.55"/>
<rect x="240.23" y="556.90" width="1.4" height="1.4" fill="#000" opacity="0.55"/>
<rect x="258.94" y="556.90" width="1.4" height="1.4" fill="#000" opacity="0.55"/>
<rect x="258.89" y="556.90" width="1.4" height="1.4" fill="#000" opacity="0.55"/>
<rect x="254.85" y="556.90" width="1.4" height="1.4" fill="#000" opacity="0.55"/>
<rect x="251.40" y="556.90" width="1.4" height="1.4" fill="#000" opacity="0.55"/>
<rect x="238.97" y="514.09" width="1.4" height="1.4" fill="#000" opacity="0.55"/>
<rect x="234.83" y="514.70" width="1.4" height="1.4" fill="#000" opacity="0.55"/>
<rect x="243.41" y="505.67" width="1.4" height="1.4" fill="#000" opacity="0.55"/>
<rect x="243.05" y="504.42" width="1.4" height="1.4" fill="#000" opacity="0.55"/>
<rect x="255.03" y="502.75" width="1.4" height="1.4" fill="#000" opacity="0.55"/>
<rect x="238.45" y="525.79" width="1.4" height="1.4" fill="#000" opacity="0.55"/>
<rect x="245.22" y="503.46" width="1.4" height="1.4" fill="#000" opacity="0.55"/>
<rect x="243.33" y="502.43" width="1.4" height="1.4" fill="#000" opacity="0.55"/>
<rect x="249.37" y="521.08" width="1.4" height="1.4" fill="#000" opacity="0.55"/>
<rect x="240.01" y="505.48" width="1.4" height="1.4" fill="#000" opacity="0.55"/>
<rect x="241.65" y="520.52" width="1.4" height="1.4" fill="#000" opacity="0.55"/>
<rect x="252.71" y="502.66" width="1.4" height="1.4" fill="#000" opacity="0.55"/>
<rect x="239.41" y="519.42" width="1.4" height="1.4" fill="#000" opacity="0.55"/>
<rect x="234.56" y="520.01" width="1.4" height="1.4" fill="#000" opacity="0.55"/>
<rect x="237.62" y="505.19" width="1.4" height="1.4" fill="#000" opacity="0.55"/>
<rect x="244.63" y="509.18" width="1.4" height="1.4" fill="#000" opacity="0.55"/>
<rect x="252.03" y="517.21" width="1.4" height="1.4" fill="#000" opacity="0.55"/>
<rect x="249.74" y="518.99" width="1.4" height="1.4" fill="#000" opacity="0.55"/>
<rect x="243.94" y="519.47" width="1.4" height="1.4" fill="#000" opacity="0.55"/>
<rect x="240.01" y="516.60" width="1.4" height="1.4" fill="#000" opacity="0.55"/>
<rect x="253.89" y="502.56" width="1.4" height="1.4" fill="#000" opacity="0.55"/>
<rect x="256.01" y="514.35" width="1.4" height="1.4" fill="#000" opacity="0.55"/>
<rect x="243.25" y="516.66" width="1.4" height="1.4" fill="#000" opacity="0.55"/>
<rect x="249.69" y="504.30" width="1.4" height="1.4" fill="#000" opacity="0.55"/>
<rect x="258.72" y="520.03" width="1.4" height="1.4" fill="#000" opacity="0.55"/>
<rect x="239.72" y="516.59" width="1.4" height="1.4" fill="#000" opacity="0.55"/>
<rect x="241.55" y="462.67" width="1.4" height="1.4" fill="#000" opacity="0.55"/>
<rect x="234.91" y="487.00" width="1.4" height="1.4" fill="#000" opacity="0.55"/>
<rect x="248.15" y="497.54" width="1.4" height="1.4" fill="#000" opacity="0.55"/>
<rect x="248.63" y="489.73" width="1.4" height="1.4" fill="#000" opacity="0.55"/>
<rect x="244.78" y="483.15" width="1.4" height="1.4" fill="#000" opacity="0.55"/>
<rect x="245.58" y="453.14" width="1.4" height="1.4" fill="#000" opacity="0.55"/>
<rect x="255.53" y="472.79" width="1.4" height="1.4" fill="#000" opacity="0.55"/>
<rect x="237.01" y="492.80" width="1.4" height="1.4" fill="#000" opacity="0.55"/>
<rect x="254.26" y="455.73" width="1.4" height="1.4" fill="#000" opacity="0.55"/>
<rect x="237.93" y="489.40" width="1.4" height="1.4" fill="#000" opacity="0.55"/>
<rect x="257.45" y="464.37" width="1.4" height="1.4" fill="#000" opacity="0.55"/>
<rect x="257.70" y="492.10" width="1.4" height="1.4" fill="#000" opacity="0.55"/>
<rect x="248.69" y="457.07" width="1.4" height="1.4" fill="#000" opacity="0.55"/>
<rect x="235.70" y="480.61" width="1.4" height="1.4" fill="#000" opacity="0.55"/>
<rect x="258.03" y="500.17" width="1.4" height="1.4" fill="#000" opacity="0.55"/>
<rect x="251.32" y="489.96" width="1.4" height="1.4" fill="#000" opacity="0.55"/>
<rect x="254.42" y="489.02" width="1.4" height="1.4" fill="#000" opacity="0.55"/>
<rect x="240.63" y="471.67" width="1.4" height="1.4" fill="#000" opacity="0.55"/>
<rect x="251.73" y="493.18" width="1.4" height="1.4" fill="#000" opacity="0.55"/>
<rect x="238.94" y="498.63" width="1.4" height="1.4" fill="#000" opacity="0.55"/>
<rect x="255.16" y="473.57" width="1.4" height="1.4" fill="#000" opacity="0.55"/>
<rect x="240.29" y="470.76" width="1.4" height="1.4" fill="#000" opacity="0.55"/>
<rect x="238.30" y="455.28" width="1.4" height="1.4" fill="#000" opacity="0.55"/>
<rect x="240.00" y="501.30" width="1.4" height="1.4" fill="#000" opacity="0.55"/>
<rect x="234.57" y="479.37" width="1.4" height="1.4" fill="#000" opacity="0.55"/>
<rect x="242.59" y="493.14" width="1.4" height="1.4" fill="#000" opacity="0.55"/>
<rect x="236.42" y="472.91" width="1.4" height="1.4" fill="#000" opacity="0.55"/>
<rect x="256.16" y="483.64" width="1.4" height="1.4" fill="#000" opacity="0.55"/>
<rect x="250.08" y="452.05" width="1.4" height="1.4" fill="#000" opacity="0.55"/>
<rect x="248.20" y="466.83" width="1.4" height="1.4" fill="#000" opacity="0.55"/>
<rect x="233.91" y="494.97" width="1.4" height="1.4" fill="#000" opacity="0.55"/>
<rect x="256.67" y="501.23" width="1.4" height="1.4" fill="#000" opacity="0.55"/>
<rect x="258.03" y="466.33" width="1.4" height="1.4" fill="#000" opacity="0.55"/>
<rect x="249.54" y="501.06" width="1.4" height="1.4" fill="#000" opacity="0.55"/>
<rect x="251.99" y="477.51" width="1.4" height="1.4" fill="#000" opacity="0.55"/>
<rect x="258.98" y="485.85" width="1.4" height="1.4" fill="#000" opacity="0.55"/>
<rect x="247.20" y="498.30" width="1.4" height="1.4" fill="#000" opacity="0.55"/>
<rect x="256.41" y="464.49" width="1.4" height="1.4" fill="#000" opacity="0.55"/>
<rect x="251.30" y="464.49" width="1.4" height="1.4" fill="#000" opacity="0.55"/>
<rect x="256.79" y="461.62" width="1.4" height="1.4" fill="#000" opacity="0.55"/>
<rect x="250.81" y="484.17" width="1.4" height="1.4" fill="#000" opacity="0.55"/>
<rect x="255.65" y="456.12" width="1.4" height="1.4" fill="#000" opacity="0.55"/>
<rect x="253.55" y="480.83" width="1.4" height="1.4" fill="#000" opacity="0.55"/>
<rect x="247.89" y="458.03" width="1.4" height="1.4" fill="#000" opacity="0.55"/>
<rect x="242.94" y="470.21" width="1.4" height="1.4" fill="#000" opacity="0.55"/>
<rect x="248.83" y="472.37" width="1.4" height="1.4" fill="#000" opacity="0.55"/>
<rect x="249.62" y="498.05" width="1.4" height="1.4" fill="#000" opacity="0.55"/>
<rect x="255.87" y="451.39" width="1.4" height="1.4" fill="#000" opacity="0.55"/>
<rect x="243.10" y="464.94" width="1.4" height="1.4" fill="#000" opacity="0.55"/>
<rect x="248.10" y="464.59" width="1.4" height="1.4" fill="#000" opacity="0.55"/>
<rect x="254.80" y="479.64" width="1.4" height="1.4" fill="#000" opacity="0.55"/>
<rect x="252.51" y="497.86" width="1.4" height="1.4" fill="#000" opacity="0.55"/>
<rect x="248.63" y="500.62" width="1.4" height="1.4" fill="#000" opacity="0.55"/>
<rect x="238.99" y="477.57" width="1.4" height="1.4" fill="#000" opacity="0.55"/>
<rect x="245.93" y="466.47" width="1.4" height="1.4" fill="#000" opacity="0.55"/>
<rect x="256.93" y="470.75" width="1.4" height="1.4" fill="#000" opacity="0.55"/>
<rect x="233.29" y="489.07" width="1.4" height="1.4" fill="#000" opacity="0.55"/>
<rect x="250.63" y="486.76" width="1.4" height="1.4" fill="#000" opacity="0.55"/>
<rect x="237.41" y="491.79" width="1.4" height="1.4" fill="#000" opacity="0.55"/>
<rect x="250.16" y="455.87" width="1.4" height="1.4" fill="#000" opacity="0.55"/>
<rect x="256.18" y="479.57" width="1.4" height="1.4" fill="#000" opacity="0.55"/>
<rect x="250.31" y="485.44" width="1.4" height="1.4" fill="#000" opacity="0.55"/>
<rect x="244.20" y="442.17" width="1.4" height="1.4" fill="#000" opacity="0.55"/>
<rect x="256.77" y="415.00" width="1.4" height="1.4" fill="#000" opacity="0.55"/>
<rect x="242.99" y="411.68" width="1.4" height="1.4" fill="#000" opacity="0.55"/>
<rect x="241.23" y="424.97" width="1.4" height="1.4" fill="#000" opacity="0.55"/>
<rect x="245.91" y="444.96" width="1.4" height="1.4" fill="#000" opacity="0.55"/>
<rect x="255.07" y="413.61" width="1.4" height="1.4" fill="#000" opacity="0.55"/>
<rect x="257.70" y="419.24" width="1.4" height="1.4" fill="#000" opacity="0.55"/>
<rect x="237.40" y="438.67" width="1.4" height="1.4" fill="#000" opacity="0.55"/>
<rect x="240.15" y="430.90" width="1.4" height="1.4" fill="#000" opacity="0.55"/>
<rect x="243.76" y="441.48" width="1.4" height="1.4" fill="#000" opacity="0.55"/>
<rect x="245.84" y="423.06" width="1.4" height="1.4" fill="#000" opacity="0.55"/>
<rect x="254.82" y="436.95" width="1.4" height="1.4" fill="#000" opacity="0.55"/>
<rect x="244.76" y="407.13" width="1.4" height="1.4" fill="#000" opacity="0.55"/>
<rect x="233.82" y="447.71" width="1.4" height="1.4" fill="#000" opacity="0.55"/>
<rect x="234.08" y="412.01" width="1.4" height="1.4" fill="#000" opacity="0.55"/>
<rect x="247.84" y="419.36" width="1.4" height="1.4" fill="#000" opacity="0.55"/>
<rect x="253.58" y="437.23" width="1.4" height="1.4" fill="#000" opacity="0.55"/>
<rect x="236.53" y="450.20" width="1.4" height="1.4" fill="#000" opacity="0.55"/>
<rect x="233.64" y="430.71" width="1.4" height="1.4" fill="#000" opacity="0.55"/>
<rect x="239.17" y="413.94" width="1.4" height="1.4" fill="#000" opacity="0.55"/>
<rect x="234.22" y="444.75" width="1.4" height="1.4" fill="#000" opacity="0.55"/>
<rect x="244.61" y="422.91" width="1.4" height="1.4" fill="#000" opacity="0.55"/>
<rect x="250.03" y="422.87" width="1.4" height="1.4" fill="#000" opacity="0.55"/>
<rect x="257.92" y="414.94" width="1.4" height="1.4" fill="#000" opacity="0.55"/>
<rect x="238.18" y="420.44" width="1.4" height="1.4" fill="#000" opacity="0.55"/>
<rect x="237.65" y="429.80" width="1.4" height="1.4" fill="#000" opacity="0.55"/>
<rect x="245.28" y="450.57" width="1.4" height="1.4" fill="#000" opacity="0.55"/>
<rect x="237.66" y="419.11" width="1.4" height="1.4" fill="#000" opacity="0.55"/>
<rect x="241.99" y="438.87" width="1.4" height="1.4" fill="#000" opacity="0.55"/>
<rect x="246.53" y="419.86" width="1.4" height="1.4" fill="#000" opacity="0.55"/>
<rect x="252.66" y="423.57" width="1.4" height="1.4" fill="#000" opacity="0.55"/>
<rect x="253.59" y="433.45" width="1.4" height="1.4" fill="#000" opacity="0.55"/>
<rect x="235.27" y="410.52" width="1.4" height="1.4" fill="#000" opacity="0.55"/>
<rect x="251.78" y="409.34" width="1.4" height="1.4" fill="#000" opacity="0.55"/>
<rect x="244.79" y="445.24" width="1.4" height="1.4" fill="#000" opacity="0.55"/>
<rect x="256.66" y="423.07" width="1.4" height="1.4" fill="#000" opacity="0.55"/>
<rect x="247.79" y="434.20" width="1.4" height="1.4" fill="#000" opacity="0.55"/>
<rect x="253.72" y="411.72" width="1.4" height="1.4" fill="#000" opacity="0.55"/>
<rect x="245.06" y="408.82" width="1.4" height="1.4" fill="#000" opacity="0.55"/>
<rect x="238.33" y="421.92" width="1.4" height="1.4" fill="#000" opacity="0.55"/>
<rect x="254.28" y="418.76" width="1.4" height="1.4" fill="#000" opacity="0.55"/>
<rect x="251.66" y="422.35" width="1.4" height="1.4" fill="#000" opacity="0.55"/>
<rect x="256.40" y="441.51" width="1.4" height="1.4" fill="#000" opacity="0.55"/>
<rect x="258.41" y="407.20" width="1.4" height="1.4" fill="#000" opacity="0.55"/>
<rect x="253.56" y="427.03" width="1.4" height="1.4" fill="#000" opacity="0.55"/>
<rect x="256.66" y="436.72" width="1.4" height="1.4" fill="#000" opacity="0.55"/>
<rect x="242.06" y="412.77" width="1.4" height="1.4" fill="#000" opacity="0.55"/>
<rect x="244.46" y="447.35" width="1.4" height="1.4" fill="#000" opacity="0.55"/>
<rect x="252.97" y="426.44" width="1.4" height="1.4" fill="#000" opacity="0.55"/>
<rect x="233.74" y="429.25" width="1.4" height="1.4" fill="#000" opacity="0.55"/>
<rect x="234.67" y="414.86" width="1.4" height="1.4" fill="#000" opacity="0.55"/>
<rect x="237.50" y="415.28" width="1.4" height="1.4" fill="#000" opacity="0.55"/>
<rect x="253.49" y="436.07" width="1.4" height="1.4" fill="#000" opacity="0.55"/>
<rect x="236.87" y="444.77" width="1.4" height="1.4" fill="#000" opacity="0.55"/>
<rect x="251.81" y="427.95" width="1.4" height="1.4" fill="#000" opacity="0.55"/>
<rect x="250.92" y="413.48" width="1.4" height="1.4" fill="#000" opacity="0.55"/>
<rect x="245.81" y="408.75" width="1.4" height="1.4" fill="#000" opacity="0.55"/>
<rect x="235.24" y="408.60" width="1.4" height="1.4" fill="#000" opacity="0.55"/>
<rect x="246.69" y="441.15" width="1.4" height="1.4" fill="#000" opacity="0.55"/>
<rect x="251.95" y="438.07" width="1.4" height="1.4" fill="#000" opacity="0.55"/>
<rect x="246.59" y="422.48" width="1.4" height="1.4" fill="#000" opacity="0.55"/>
<rect x="247.56" y="413.32" width="1.4" height="1.4" fill="#000" opacity="0.55"/>
<rect x="242.91" y="400.08" width="1.4" height="1.4" fill="#000" opacity="0.55"/>
<rect x="256.41" y="375.53" width="1.4" height="1.4" fill="#000" opacity="0.55"/>
<rect x="255.12" y="403.05" width="1.4" height="1.4" fill="#000" opacity="0.55"/>
<rect x="246.63" y="368.04" width="1.4" height="1.4" fill="#000" opacity="0.55"/>
<rect x="238.23" y="389.79" width="1.4" height="1.4" fill="#000" opacity="0.55"/>
<rect x="246.08" y="391.47" width="1.4" height="1.4" fill="#000" opacity="0.55"/>
<rect x="233.72" y="388.28" width="1.4" height="1.4" fill="#000" opacity="0.55"/>
<rect x="246.42" y="367.98" width="1.4" height="1.4" fill="#000" opacity="0.55"/>
<rect x="253.83" y="397.00" width="1.4" height="1.4" fill="#000" opacity="0.55"/>
<rect x="245.77" y="390.26" width="1.4" height="1.4" fill="#000" opacity="0.55"/>
<rect x="234.71" y="384.02" width="1.4" height="1.4" fill="#000" opacity="0.55"/>
<rect x="243.76" y="391.35" width="1.4" height="1.4" fill="#000" opacity="0.55"/>
<rect x="257.01" y="368.77" width="1.4" height="1.4" fill="#000" opacity="0.55"/>
<rect x="245.30" y="401.39" width="1.4" height="1.4" fill="#000" opacity="0.55"/>
<rect x="244.28" y="404.84" width="1.4" height="1.4" fill="#000" opacity="0.55"/>
<rect x="256.41" y="377.24" width="1.4" height="1.4" fill="#000" opacity="0.55"/>
<rect x="241.25" y="394.01" width="1.4" height="1.4" fill="#000" opacity="0.55"/>
<rect x="249.07" y="403.46" width="1.4" height="1.4" fill="#000" opacity="0.55"/>
<rect x="236.37" y="370.74" width="1.4" height="1.4" fill="#000" opacity="0.55"/>
<rect x="233.59" y="379.29" width="1.4" height="1.4" fill="#000" opacity="0.55"/>
<rect x="238.91" y="403.40" width="1.4" height="1.4" fill="#000" opacity="0.55"/>
<rect x="241.37" y="384.22" width="1.4" height="1.4" fill="#000" opacity="0.55"/>
<rect x="249.11" y="398.63" width="1.4" height="1.4" fill="#000" opacity="0.55"/>
<rect x="252.00" y="405.23" width="1.4" height="1.4" fill="#000" opacity="0.55"/>
<rect x="246.27" y="404.92" width="1.4" height="1.4" fill="#000" opacity="0.55"/>
<rect x="238.14" y="401.92" width="1.4" height="1.4" fill="#000" opacity="0.55"/>
<rect x="244.36" y="391.72" width="1.4" height="1.4" fill="#000" opacity="0.55"/>
<rect x="243.75" y="397.91" width="1.4" height="1.4" fill="#000" opacity="0.55"/>
<rect x="237.15" y="391.76" width="1.4" height="1.4" fill="#000" opacity="0.55"/>
<rect x="249.41" y="403.15" width="1.4" height="1.4" fill="#000" opacity="0.55"/>
<rect x="246.77" y="386.67" width="1.4" height="1.4" fill="#000" opacity="0.55"/>
<rect x="248.90" y="375.18" width="1.4" height="1.4" fill="#000" opacity="0.55"/>
<rect x="239.05" y="374.86" width="1.4" height="1.4" fill="#000" opacity="0.55"/>
<rect x="254.07" y="381.39" width="1.4" height="1.4" fill="#000" opacity="0.55"/>
<rect x="241.21" y="372.12" width="1.4" height="1.4" fill="#000" opacity="0.55"/>
<rect x="256.99" y="399.98" width="1.4" height="1.4" fill="#000" opacity="0.55"/>
<rect x="258.96" y="402.80" width="1.4" height="1.4" fill="#000" opacity="0.55"/>
<rect x="236.48" y="373.03" width="1.4" height="1.4" fill="#000" opacity="0.55"/>
<rect x="251.89" y="402.23" width="1.4" height="1.4" fill="#000" opacity="0.55"/>
<rect x="235.52" y="401.67" width="1.4" height="1.4" fill="#000" opacity="0.55"/>
<rect x="243.96" y="376.29" width="1.4" height="1.4" fill="#000" opacity="0.55"/>
<rect x="236.28" y="378.69" width="1.4" height="1.4" fill="#000" opacity="0.55"/>
<rect x="250.82" y="396.92" width="1.4" height="1.4" fill="#000" opacity="0.55"/>
<rect x="238.22" y="406.26" width="1.4" height="1.4" fill="#000" opacity="0.55"/>
<rect x="250.74" y="364.10" width="1.4" height="1.4" fill="#000" opacity="0.55"/>
<rect x="256.70" y="364.10" width="1.4" height="1.4" fill="#000" opacity="0.55"/>
<rect x="258.18" y="364.10" width="1.4" height="1.4" fill="#000" opacity="0.55"/>
<rect x="236.00" y="364.10" width="1.4" height="1.4" fill="#000" opacity="0.55"/>
<rect x="246.15" y="364.10" width="1.4" height="1.4" fill="#000" opacity="0.55"/>
<rect x="252.71" y="364.10" width="1.4" height="1.4" fill="#000" opacity="0.55"/>
<rect x="246.07" y="364.10" width="1.4" height="1.4" fill="#000" opacity="0.55"/>
<rect x="250.83" y="364.10" width="1.4" height="1.4" fill="#000" opacity="0.55"/>
<rect x="237.91" y="364.10" width="1.4" height="1.4" fill="#000" opacity="0.55"/>
<rect x="234.83" y="364.10" width="1.4" height="1.4" fill="#000" opacity="0.55"/>
<rect x="235.76" y="364.10" width="1.4" height="1.4" fill="#000" opacity="0.55"/>
<rect x="233.97" y="364.10" width="1.4" height="1.4" fill="#000" opacity="0.55"/>
<rect x="247.34" y="364.10" width="1.4" height="1.4" fill="#000" opacity="0.55"/>
<rect x="246.39" y="364.10" width="1.4" height="1.4" fill="#000" opacity="0.55"/>
<rect x="313.69" y="556.90" width="1.4" height="1.4" fill="#000" opacity="0.55"/>
<rect x="302.71" y="556.90" width="1.4" height="1.4" fill="#000" opacity="0.55"/>
<rect x="303.70" y="556.90" width="1.4" height="1.4" fill="#000" opacity="0.55"/>
<rect x="304.20" y="556.90" width="1.4" height="1.4" fill="#000" opacity="0.55"/>
<rect x="320.75" y="556.90" width="1.4" height="1.4" fill="#000" opacity="0.55"/>
<rect x="324.65" y="556.90" width="1.4" height="1.4" fill="#000" opacity="0.55"/>
<rect x="323.00" y="556.90" width="1.4" height="1.4" fill="#000" opacity="0.55"/>
<rect x="301.38" y="556.90" width="1.4" height="1.4" fill="#000" opacity="0.55"/>
<rect x="323.64" y="486.09" width="1.4" height="1.4" fill="#000" opacity="0.55"/>
<rect x="318.78" y="457.10" width="1.4" height="1.4" fill="#000" opacity="0.55"/>
<rect x="311.04" y="466.12" width="1.4" height="1.4" fill="#000" opacity="0.55"/>
<rect x="310.08" y="453.66" width="1.4" height="1.4" fill="#000" opacity="0.55"/>
<rect x="299.24" y="448.23" width="1.4" height="1.4" fill="#000" opacity="0.55"/>
<rect x="320.85" y="442.04" width="1.4" height="1.4" fill="#000" opacity="0.55"/>
<rect x="310.70" y="476.52" width="1.4" height="1.4" fill="#000" opacity="0.55"/>
<rect x="309.44" y="439.71" width="1.4" height="1.4" fill="#000" opacity="0.55"/>
<rect x="303.19" y="475.49" width="1.4" height="1.4" fill="#000" opacity="0.55"/>
<rect x="299.30" y="453.83" width="1.4" height="1.4" fill="#000" opacity="0.55"/>
<rect x="319.74" y="430.50" width="1.4" height="1.4" fill="#000" opacity="0.55"/>
<rect x="321.28" y="441.82" width="1.4" height="1.4" fill="#000" opacity="0.55"/>
<rect x="309.42" y="446.46" width="1.4" height="1.4" fill="#000" opacity="0.55"/>
<rect x="312.01" y="448.32" width="1.4" height="1.4" fill="#000" opacity="0.55"/>
<rect x="319.83" y="425.26" width="1.4" height="1.4" fill="#000" opacity="0.55"/>
<rect x="322.59" y="470.91" width="1.4" height="1.4" fill="#000" opacity="0.55"/>
<rect x="319.13" y="439.40" width="1.4" height="1.4" fill="#000" opacity="0.55"/>
<rect x="309.45" y="435.17" width="1.4" height="1.4" fill="#000" opacity="0.55"/>
<rect x="321.78" y="430.30" width="1.4" height="1.4" fill="#000" opacity="0.55"/>
<rect x="318.85" y="442.42" width="1.4" height="1.4" fill="#000" opacity="0.55"/>
<rect x="309.45" y="438.14" width="1.4" height="1.4" fill="#000" opacity="0.55"/>
<rect x="300.73" y="440.72" width="1.4" height="1.4" fill="#000" opacity="0.55"/>
<rect x="311.09" y="465.11" width="1.4" height="1.4" fill="#000" opacity="0.55"/>
<rect x="308.15" y="491.07" width="1.4" height="1.4" fill="#000" opacity="0.55"/>
<rect x="315.12" y="445.88" width="1.4" height="1.4" fill="#000" opacity="0.55"/>
<rect x="323.46" y="472.78" width="1.4" height="1.4" fill="#000" opacity="0.55"/>
<rect x="307.68" y="444.19" width="1.4" height="1.4" fill="#000" opacity="0.55"/>
<rect x="313.71" y="444.58" width="1.4" height="1.4" fill="#000" opacity="0.55"/>
<rect x="309.03" y="452.52" width="1.4" height="1.4" fill="#000" opacity="0.55"/>
<rect x="315.60" y="424.26" width="1.4" height="1.4" fill="#000" opacity="0.55"/>
<rect x="318.71" y="442.03" width="1.4" height="1.4" fill="#000" opacity="0.55"/>
<rect x="299.49" y="425.41" width="1.4" height="1.4" fill="#000" opacity="0.55"/>
<rect x="318.11" y="447.33" width="1.4" height="1.4" fill="#000" opacity="0.55"/>
<rect x="309.34" y="471.03" width="1.4" height="1.4" fill="#000" opacity="0.55"/>
<rect x="303.98" y="487.11" width="1.4" height="1.4" fill="#000" opacity="0.55"/>
<rect x="301.46" y="462.81" width="1.4" height="1.4" fill="#000" opacity="0.55"/>
<rect x="322.45" y="471.43" width="1.4" height="1.4" fill="#000" opacity="0.55"/>
<rect x="312.10" y="451.44" width="1.4" height="1.4" fill="#000" opacity="0.55"/>
<rect x="313.67" y="426.16" width="1.4" height="1.4" fill="#000" opacity="0.55"/>
<rect x="315.49" y="424.54" width="1.4" height="1.4" fill="#000" opacity="0.55"/>
<rect x="300.88" y="435.47" width="1.4" height="1.4" fill="#000" opacity="0.55"/>
<rect x="318.64" y="448.45" width="1.4" height="1.4" fill="#000" opacity="0.55"/>
<rect x="323.08" y="487.60" width="1.4" height="1.4" fill="#000" opacity="0.55"/>
<rect x="311.17" y="478.13" width="1.4" height="1.4" fill="#000" opacity="0.55"/>
<rect x="311.78" y="477.44" width="1.4" height="1.4" fill="#000" opacity="0.55"/>
<rect x="300.42" y="447.59" width="1.4" height="1.4" fill="#000" opacity="0.55"/>
<rect x="309.84" y="427.44" width="1.4" height="1.4" fill="#000" opacity="0.55"/>
<rect x="314.44" y="452.92" width="1.4" height="1.4" fill="#000" opacity="0.55"/>
<rect x="306.33" y="463.49" width="1.4" height="1.4" fill="#000" opacity="0.55"/>
<rect x="313.48" y="444.86" width="1.4" height="1.4" fill="#000" opacity="0.55"/>
<rect x="317.53" y="417.58" width="1.4" height="1.4" fill="#000" opacity="0.55"/>
<rect x="299.26" y="417.29" width="1.4" height="1.4" fill="#000" opacity="0.55"/>
<rect x="300.01" y="418.49" width="1.4" height="1.4" fill="#000" opacity="0.55"/>
<rect x="318.52" y="420.57" width="1.4" height="1.4" fill="#000" opacity="0.55"/>
<rect x="322.24" y="415.08" width="1.4" height="1.4" fill="#000" opacity="0.55"/>
<rect x="300.20" y="406.65" width="1.4" height="1.4" fill="#000" opacity="0.55"/>
<rect x="323.46" y="401.00" width="1.4" height="1.4" fill="#000" opacity="0.55"/>
<rect x="322.44" y="422.52" width="1.4" height="1.4" fill="#000" opacity="0.55"/>
<rect x="311.32" y="414.15" width="1.4" height="1.4" fill="#000" opacity="0.55"/>
<rect x="305.24" y="401.36" width="1.4" height="1.4" fill="#000" opacity="0.55"/>
<rect x="323.27" y="411.94" width="1.4" height="1.4" fill="#000" opacity="0.55"/>
<rect x="311.08" y="407.25" width="1.4" height="1.4" fill="#000" opacity="0.55"/>
<rect x="320.13" y="401.23" width="1.4" height="1.4" fill="#000" opacity="0.55"/>
<rect x="301.89" y="410.06" width="1.4" height="1.4" fill="#000" opacity="0.55"/>
<rect x="310.75" y="409.57" width="1.4" height="1.4" fill="#000" opacity="0.55"/>
<rect x="300.25" y="419.46" width="1.4" height="1.4" fill="#000" opacity="0.55"/>
<rect x="302.13" y="411.83" width="1.4" height="1.4" fill="#000" opacity="0.55"/>
<rect x="316.27" y="413.84" width="1.4" height="1.4" fill="#000" opacity="0.55"/>
<rect x="305.72" y="413.54" width="1.4" height="1.4" fill="#000" opacity="0.55"/>
<rect x="309.81" y="410.56" width="1.4" height="1.4" fill="#000" opacity="0.55"/>
<rect x="312.70" y="405.95" width="1.4" height="1.4" fill="#000" opacity="0.55"/>
<rect x="323.67" y="400.79" width="1.4" height="1.4" fill="#000" opacity="0.55"/>
<rect x="305.10" y="406.98" width="1.4" height="1.4" fill="#000" opacity="0.55"/>
<rect x="322.11" y="421.58" width="1.4" height="1.4" fill="#000" opacity="0.55"/>
<rect x="315.15" y="405.81" width="1.4" height="1.4" fill="#000" opacity="0.55"/>
<rect x="305.96" y="415.81" width="1.4" height="1.4" fill="#000" opacity="0.55"/>
<rect x="313.59" y="408.14" width="1.4" height="1.4" fill="#000" opacity="0.55"/>
<rect x="315.36" y="410.34" width="1.4" height="1.4" fill="#000" opacity="0.55"/>
<rect x="303.84" y="406.53" width="1.4" height="1.4" fill="#000" opacity="0.55"/>
<rect x="324.37" y="418.40" width="1.4" height="1.4" fill="#000" opacity="0.55"/>
<rect x="321.75" y="402.71" width="1.4" height="1.4" fill="#000" opacity="0.55"/>
<rect x="300.48" y="423.32" width="1.4" height="1.4" fill="#000" opacity="0.55"/>
<rect x="309.96" y="417.88" width="1.4" height="1.4" fill="#000" opacity="0.55"/>
<rect x="301.56" y="409.59" width="1.4" height="1.4" fill="#000" opacity="0.55"/>
<rect x="300.78" y="411.51" width="1.4" height="1.4" fill="#000" opacity="0.55"/>
<rect x="316.48" y="422.22" width="1.4" height="1.4" fill="#000" opacity="0.55"/>
<rect x="315.31" y="411.30" width="1.4" height="1.4" fill="#000" opacity="0.55"/>
<rect x="311.34" y="415.48" width="1.4" height="1.4" fill="#000" opacity="0.55"/>
<rect x="307.84" y="419.30" width="1.4" height="1.4" fill="#000" opacity="0.55"/>
<rect x="320.70" y="406.73" width="1.4" height="1.4" fill="#000" opacity="0.55"/>
<rect x="302.01" y="422.50" width="1.4" height="1.4" fill="#000" opacity="0.55"/>
<rect x="315.12" y="405.22" width="1.4" height="1.4" fill="#000" opacity="0.55"/>
<rect x="304.44" y="406.17" width="1.4" height="1.4" fill="#000" opacity="0.55"/>
<rect x="305.61" y="414.27" width="1.4" height="1.4" fill="#000" opacity="0.55"/>
<rect x="308.49" y="405.20" width="1.4" height="1.4" fill="#000" opacity="0.55"/>
<rect x="324.62" y="408.88" width="1.4" height="1.4" fill="#000" opacity="0.55"/>
<rect x="313.16" y="416.60" width="1.4" height="1.4" fill="#000" opacity="0.55"/>
<rect x="322.84" y="406.70" width="1.4" height="1.4" fill="#000" opacity="0.55"/>
<rect x="308.50" y="414.19" width="1.4" height="1.4" fill="#000" opacity="0.55"/>
<rect x="321.65" y="421.97" width="1.4" height="1.4" fill="#000" opacity="0.55"/>
<rect x="301.06" y="422.41" width="1.4" height="1.4" fill="#000" opacity="0.55"/>
<rect x="311.51" y="410.98" width="1.4" height="1.4" fill="#000" opacity="0.55"/>
<rect x="306.67" y="408.13" width="1.4" height="1.4" fill="#000" opacity="0.55"/>
<rect x="300.88" y="406.01" width="1.4" height="1.4" fill="#000" opacity="0.55"/>
<rect x="316.11" y="419.24" width="1.4" height="1.4" fill="#000" opacity="0.55"/>
<rect x="306.80" y="422.33" width="1.4" height="1.4" fill="#000" opacity="0.55"/>
<rect x="316.94" y="373.95" width="1.4" height="1.4" fill="#000" opacity="0.55"/>
<rect x="302.62" y="386.87" width="1.4" height="1.4" fill="#000" opacity="0.55"/>
<rect x="317.78" y="384.39" width="1.4" height="1.4" fill="#000" opacity="0.55"/>
<rect x="301.95" y="384.12" width="1.4" height="1.4" fill="#000" opacity="0.55"/>
<rect x="313.70" y="374.35" width="1.4" height="1.4" fill="#000" opacity="0.55"/>
<rect x="323.34" y="369.12" width="1.4" height="1.4" fill="#000" opacity="0.55"/>
<rect x="310.29" y="369.25" width="1.4" height="1.4" fill="#000" opacity="0.55"/>
<rect x="306.82" y="371.96" width="1.4" height="1.4" fill="#000" opacity="0.55"/>
<rect x="309.29" y="385.70" width="1.4" height="1.4" fill="#000" opacity="0.55"/>
<rect x="322.16" y="368.73" width="1.4" height="1.4" fill="#000" opacity="0.55"/>
<rect x="308.30" y="388.08" width="1.4" height="1.4" fill="#000" opacity="0.55"/>
<rect x="308.35" y="384.15" width="1.4" height="1.4" fill="#000" opacity="0.55"/>
<rect x="308.98" y="383.20" width="1.4" height="1.4" fill="#000" opacity="0.55"/>
<rect x="313.56" y="390.05" width="1.4" height="1.4" fill="#000" opacity="0.55"/>
<rect x="312.95" y="372.11" width="1.4" height="1.4" fill="#000" opacity="0.55"/>
<rect x="313.53" y="371.13" width="1.4" height="1.4" fill="#000" opacity="0.55"/>
<rect x="318.63" y="390.77" width="1.4" height="1.4" fill="#000" opacity="0.55"/>
<rect x="306.22" y="370.03" width="1.4" height="1.4" fill="#000" opacity="0.55"/>
<rect x="312.31" y="398.40" width="1.4" height="1.4" fill="#000" opacity="0.55"/>
<rect x="313.65" y="378.82" width="1.4" height="1.4" fill="#000" opacity="0.55"/>
<rect x="315.83" y="367.98" width="1.4" height="1.4" fill="#000" opacity="0.55"/>
<rect x="300.57" y="371.93" width="1.4" height="1.4" fill="#000" opacity="0.55"/>
<rect x="319.39" y="378.75" width="1.4" height="1.4" fill="#000" opacity="0.55"/>
<rect x="301.02" y="394.81" width="1.4" height="1.4" fill="#000" opacity="0.55"/>
<rect x="322.28" y="373.64" width="1.4" height="1.4" fill="#000" opacity="0.55"/>
<rect x="315.39" y="394.77" width="1.4" height="1.4" fill="#000" opacity="0.55"/>
<rect x="318.29" y="392.10" width="1.4" height="1.4" fill="#000" opacity="0.55"/>
<rect x="305.28" y="375.94" width="1.4" height="1.4" fill="#000" opacity="0.55"/>
<rect x="318.80" y="389.09" width="1.4" height="1.4" fill="#000" opacity="0.55"/>
<rect x="318.78" y="379.46" width="1.4" height="1.4" fill="#000" opacity="0.55"/>
<rect x="307.68" y="383.24" width="1.4" height="1.4" fill="#000" opacity="0.55"/>
<rect x="316.38" y="367.93" width="1.4" height="1.4" fill="#000" opacity="0.55"/>
<rect x="312.87" y="380.26" width="1.4" height="1.4" fill="#000" opacity="0.55"/>
<rect x="317.31" y="374.05" width="1.4" height="1.4" fill="#000" opacity="0.55"/>
<rect x="309.58" y="369.21" width="1.4" height="1.4" fill="#000" opacity="0.55"/>
<rect x="316.24" y="371.38" width="1.4" height="1.4" fill="#000" opacity="0.55"/>
<rect x="319.85" y="370.71" width="1.4" height="1.4" fill="#000" opacity="0.55"/>
<rect x="322.00" y="371.19" width="1.4" height="1.4" fill="#000" opacity="0.55"/>
<rect x="315.55" y="368.18" width="1.4" height="1.4" fill="#000" opacity="0.55"/>
<rect x="317.36" y="379.40" width="1.4" height="1.4" fill="#000" opacity="0.55"/>
<rect x="309.86" y="371.98" width="1.4" height="1.4" fill="#000" opacity="0.55"/>
<rect x="302.70" y="382.44" width="1.4" height="1.4" fill="#000" opacity="0.55"/>
<rect x="324.67" y="373.53" width="1.4" height="1.4" fill="#000" opacity="0.55"/>
<rect x="303.26" y="383.83" width="1.4" height="1.4" fill="#000" opacity="0.55"/>
<rect x="309.95" y="389.69" width="1.4" height="1.4" fill="#000" opacity="0.55"/>
<rect x="324.11" y="386.56" width="1.4" height="1.4" fill="#000" opacity="0.55"/>
<rect x="306.92" y="396.09" width="1.4" height="1.4" fill="#000" opacity="0.55"/>
<rect x="315.75" y="393.36" width="1.4" height="1.4" fill="#000" opacity="0.55"/>
<rect x="303.57" y="372.64" width="1.4" height="1.4" fill="#000" opacity="0.55"/>
<rect x="310.83" y="395.92" width="1.4" height="1.4" fill="#000" opacity="0.55"/>
<rect x="322.54" y="377.71" width="1.4" height="1.4" fill="#000" opacity="0.55"/>
<rect x="301.73" y="397.43" width="1.4" height="1.4" fill="#000" opacity="0.55"/>
<rect x="304.55" y="390.45" width="1.4" height="1.4" fill="#000" opacity="0.55"/>
<rect x="317.55" y="388.54" width="1.4" height="1.4" fill="#000" opacity="0.55"/>
<rect x="304.72" y="377.41" width="1.4" height="1.4" fill="#000" opacity="0.55"/>
<rect x="306.21" y="390.44" width="1.4" height="1.4" fill="#000" opacity="0.55"/>
<rect x="303.39" y="364.10" width="1.4" height="1.4" fill="#000" opacity="0.55"/>
<rect x="318.60" y="364.10" width="1.4" height="1.4" fill="#000" opacity="0.55"/>
<rect x="307.00" y="364.10" width="1.4" height="1.4" fill="#000" opacity="0.55"/>
<rect x="313.15" y="364.10" width="1.4" height="1.4" fill="#000" opacity="0.55"/>
<rect x="320.15" y="364.10" width="1.4" height="1.4" fill="#000" opacity="0.55"/>
<rect x="311.37" y="364.10" width="1.4" height="1.4" fill="#000" opacity="0.55"/>
<rect x="305.67" y="364.10" width="1.4" height="1.4" fill="#000" opacity="0.55"/>
<rect x="321.97" y="364.10" width="1.4" height="1.4" fill="#000" opacity="0.55"/>
<rect x="322.67" y="364.10" width="1.4" height="1.4" fill="#000" opacity="0.55"/>
<rect x="307.79" y="364.10" width="1.4" height="1.4" fill="#000" opacity="0.55"/>
<rect x="313.13" y="364.10" width="1.4" height="1.4" fill="#000" opacity="0.55"/>
<rect x="323.78" y="364.10" width="1.4" height="1.4" fill="#000" opacity="0.55"/>
<rect x="311.45" y="364.10" width="1.4" height="1.4" fill="#000" opacity="0.55"/>
<rect x="304.65" y="364.10" width="1.4" height="1.4" fill="#000" opacity="0.55"/>
<rect x="300.19" y="364.10" width="1.4" height="1.4" fill="#000" opacity="0.55"/>
<rect x="323.54" y="364.10" width="1.4" height="1.4" fill="#000" opacity="0.55"/>
<rect x="319.74" y="364.10" width="1.4" height="1.4" fill="#000" opacity="0.55"/>
<rect x="308.91" y="364.10" width="1.4" height="1.4" fill="#000" opacity="0.55"/>
<rect x="312.62" y="364.10" width="1.4" height="1.4" fill="#000" opacity="0.55"/>
<rect x="312.31" y="364.10" width="1.4" height="1.4" fill="#000" opacity="0.55"/>
<rect x="306.04" y="364.10" width="1.4" height="1.4" fill="#000" opacity="0.55"/>
<rect x="324.65" y="364.10" width="1.4" height="1.4" fill="#000" opacity="0.55"/>
<rect x="316.00" y="364.10" width="1.4" height="1.4" fill="#000" opacity="0.55"/>
<rect x="305.08" y="364.10" width="1.4" height="1.4" fill="#000" opacity="0.55"/>
<rect x="299.18" y="364.10" width="1.4" height="1.4" fill="#000" opacity="0.55"/>
<rect x="311.19" y="364.10" width="1.4" height="1.4" fill="#000" opacity="0.55"/>
<rect x="308.56" y="364.10" width="1.4" height="1.4" fill="#000" opacity="0.55"/>
<rect x="319.62" y="364.10" width="1.4" height="1.4" fill="#000" opacity="0.55"/>
<rect x="317.45" y="364.10" width="1.4" height="1.4" fill="#000" opacity="0.55"/>
<rect x="314.66" y="364.10" width="1.4" height="1.4" fill="#000" opacity="0.55"/>
<rect x="302.99" y="364.10" width="1.4" height="1.4" fill="#000" opacity="0.55"/>
<rect x="302.98" y="364.10" width="1.4" height="1.4" fill="#000" opacity="0.55"/>
<rect x="307.27" y="364.10" width="1.4" height="1.4" fill="#000" opacity="0.55"/>
<rect x="305.65" y="364.10" width="1.4" height="1.4" fill="#000" opacity="0.55"/>
<rect x="321.50" y="364.10" width="1.4" height="1.4" fill="#000" opacity="0.55"/>
<rect x="312.32" y="364.10" width="1.4" height="1.4" fill="#000" opacity="0.55"/>
<rect x="315.46" y="364.10" width="1.4" height="1.4" fill="#000" opacity="0.55"/>
<rect x="324.72" y="364.10" width="1.4" height="1.4" fill="#000" opacity="0.55"/>
<rect x="305.83" y="364.10" width="1.4" height="1.4" fill="#000" opacity="0.55"/>
<rect x="312.80" y="364.10" width="1.4" height="1.4" fill="#000" opacity="0.55"/>
<rect x="302.82" y="364.10" width="1.4" height="1.4" fill="#000" opacity="0.55"/>
<rect x="318.93" y="364.10" width="1.4" height="1.4" fill="#000" opacity="0.55"/>
<rect x="298.94" y="364.10" width="1.4" height="1.4" fill="#000" opacity="0.55"/>
<rect x="320.26" y="364.10" width="1.4" height="1.4" fill="#000" opacity="0.55"/>
<rect x="320.90" y="364.10" width="1.4" height="1.4" fill="#000" opacity="0.55"/>
<rect x="320.27" y="364.10" width="1.4" height="1.4" fill="#000" opacity="0.55"/>
<rect x="301.04" y="364.10" width="1.4" height="1.4" fill="#000" opacity="0.55"/>
<rect x="305.92" y="364.10" width="1.4" height="1.4" fill="#000" opacity="0.55"/>
<rect x="317.53" y="364.10" width="1.4" height="1.4" fill="#000" opacity="0.55"/>
<rect x="301.43" y="364.10" width="1.4" height="1.4" fill="#000" opacity="0.55"/>
<rect x="311.09" y="365.70" width="1.4" height="1.4" fill="#000" opacity="0.55"/>
<rect x="314.15" y="364.24" width="1.4" height="1.4" fill="#000" opacity="0.55"/>
<rect x="306.79" y="364.54" width="1.4" height="1.4" fill="#000" opacity="0.55"/>
<rect x="309.74" y="364.75" width="1.4" height="1.4" fill="#000" opacity="0.55"/>
<rect x="301.26" y="364.36" width="1.4" height="1.4" fill="#000" opacity="0.55"/>
<rect x="304.32" y="364.64" width="1.4" height="1.4" fill="#000" opacity="0.55"/>
<line x1="222.40" y1="451.90" x2="271.60" y2="451.90" stroke="#0b2e0b" stroke-width="1.8"/>
<line x1="287.90" y1="401.50" x2="337.20" y2="401.50" stroke="#3c0008" stroke-width="1.7"/>
<line x1="207.20" y1="354.00" x2="207.20" y2="567.50" stroke="#222222" stroke-width="1.1"/>
<line x1="206.65" y1="567.00" x2="351.30" y2="567.00" stroke="#222222" stroke-width="1.1"/>
<line x1="204.30" y1="364.80" x2="207.20" y2="364.80" stroke="#222222" stroke-width="0.9"/>
<text x="201.50" y="366.90" font-size="6.0" text-anchor="end" fill="#222222" font-weight="normal" stroke="#222222" stroke-width="0.13" >100</text>
<line x1="204.30" y1="413.00" x2="207.20" y2="413.00" stroke="#222222" stroke-width="0.9"/>
<text x="201.50" y="415.10" font-size="6.0" text-anchor="end" fill="#222222" font-weight="normal" stroke="#222222" stroke-width="0.13" >75</text>
<line x1="204.30" y1="461.20" x2="207.20" y2="461.20" stroke="#222222" stroke-width="0.9"/>
<text x="201.50" y="463.30" font-size="6.0" text-anchor="end" fill="#222222" font-weight="normal" stroke="#222222" stroke-width="0.13" >50</text>
<line x1="204.30" y1="509.40" x2="207.20" y2="509.40" stroke="#222222" stroke-width="0.9"/>
<text x="201.50" y="511.50" font-size="6.0" text-anchor="end" fill="#222222" font-weight="normal" stroke="#222222" stroke-width="0.13" >25</text>
<line x1="204.30" y1="557.60" x2="207.20" y2="557.60" stroke="#222222" stroke-width="0.9"/>
<text x="201.50" y="559.70" font-size="6.0" text-anchor="end" fill="#222222" font-weight="normal" stroke="#222222" stroke-width="0.13" >0</text>
<line x1="246.75" y1="567.00" x2="246.75" y2="569.60" stroke="#222222" stroke-width="0.9"/>
<text x="246.75" y="577.90" font-size="6.5" text-anchor="middle" fill="#222222" font-weight="normal" stroke="#222222" stroke-width="0.13" >IGH</text>
<line x1="313.00" y1="567.00" x2="313.00" y2="569.60" stroke="#222222" stroke-width="0.9"/>
<text x="313.00" y="577.90" font-size="6.5" text-anchor="middle" fill="#222222" font-weight="normal" stroke="#222222" stroke-width="0.13" >IGK/L</text>
<text x="279.50" y="589.60" font-size="7.6" text-anchor="middle" fill="#1e1e1e" font-weight="normal" textLength="69" lengthAdjust="spacingAndGlyphs" stroke="#1e1e1e" stroke-width="0.26" >Percent identity to germline</text>
<text transform="translate(186.0,460.5) rotate(-90)" font-size="6.2" text-anchor="middle" fill="#1e1e1e" stroke="#1e1e1e" stroke-width="0.22" textLength="73.7" lengthAdjust="spacingAndGlyphs">Percent similarity to germline</text>
<polyline points="246.5,355.4 246.5,347.7 312.6,347.7 312.6,355.4" fill="none" stroke="#333" stroke-width="1"/>
<text x="279.4" y="340.9" font-size="6.1" text-anchor="middle" fill="#2a2a2a" stroke="#2a2a2a" stroke-width="0.08" textLength="48" lengthAdjust="spacingAndGlyphs">Wilcoxon, <tspan font-style="italic">P</tspan> &lt; .001</text>
</svg>
<div id="frame"></div>
</div></body></html>
